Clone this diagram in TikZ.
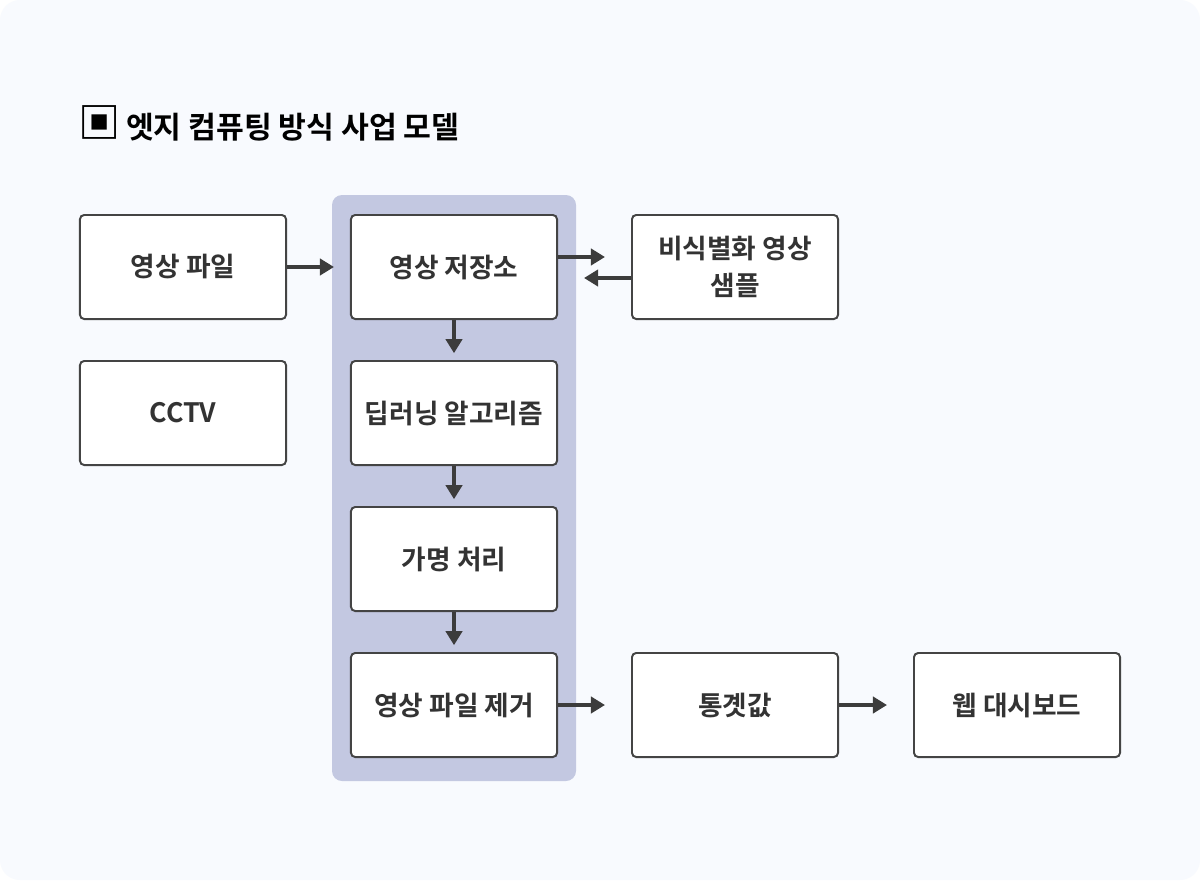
\documentclass[tikz,border=0pt]{standalone}
\usepackage{fontspec}
\setmainfont{Noto Sans CJK KR}[BoldFont={* Bold}]
\usepackage{tikz}
\usetikzlibrary{arrows.meta}
\definecolor{canvas}{HTML}{F8FAFE}
\definecolor{group}{HTML}{C3C8E1}
\definecolor{edge}{HTML}{444444}
\definecolor{ink}{HTML}{333333}
\definecolor{arrowc}{HTML}{3C3C3C}
\tikzset{
  box/.style={draw=edge, line width=1.4pt, fill=white, rounded corners=3pt,
    minimum width=5.15cm, minimum height=2.6cm, align=center,
    text=ink, font=\fontsize{19}{26}\selectfont\bfseries},
  flow/.style={draw=arrowc, line width=3.4pt,
    -{Triangle[length=10pt,width=11.5pt]}}
}
\begin{document}
\begin{tikzpicture}[x=0.025cm,y=-0.025cm]
      \useasboundingbox (0,0) rectangle (1200,880);
      \fill[white] (0,0) rectangle (1200,880);
      \fill[canvas, rounded corners=0.5cm] (0,0) rectangle (1200,880);
      \node[anchor=west, text=black, inner sep=0pt, font=\fontsize{21.5}{26}\selectfont\bfseries]
        (title) at (78,123) {{\fontsize{30}{30}\selectfont ▣}\hspace{4pt}엣지 컴퓨팅 방식 사업 모델};
      \fill[group, rounded corners=0.25cm] (332,195) rectangle (576,781);
      \node[box] (n1) at (183,267) {영상 파일};
      \node[box] (n2) at (183,413) {CCTV};
      \node[box] (n3) at (454,267) {영상 저장소};
      \node[box] (n4) at (454,413) {딥러닝 알고리즘};
      \node[box] (n5) at (454,559) {가명 처리};
      \node[box] (n6) at (454,705) {영상 파일 제거};
      \node[box] (n7) at (735,267) {비식별화 영상\\샘플};
      \node[box] (n8) at (735,705) {통곗값};
      \node[box] (n9) at (1017,705) {웹 대시보드};
      \draw[flow, shorten >=0.4cm] (n1) -- (n3);
      \foreach \i/\j in {3/4, 4/5, 5/6} {
	\draw[flow, shorten >=0.17cm] (n\i) -- (n\j);
      };
      \foreach \i/\j in {6/8, 8/9} {
	\draw[flow, shorten >=0.65cm] (n\i) -- (n\j);
      };
      \draw[flow, shorten >=0.65cm] ([yshift=0.25cm]n3.east) -- ([yshift=0.25cm]n7.west);
      \draw[flow, shorten >=0.65cm] ([yshift=-0.275cm]n7.west) -- ([yshift=-0.275cm]n3.east);
    \end{tikzpicture}
\end{document}
